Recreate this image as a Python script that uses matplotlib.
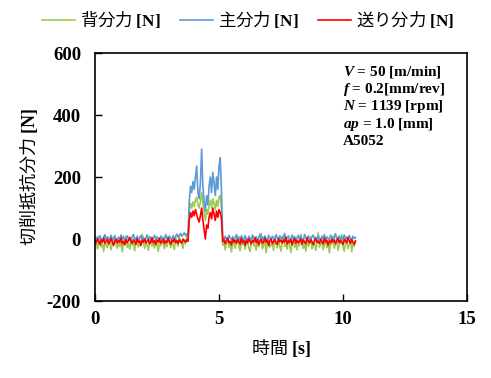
import numpy as np
import matplotlib
matplotlib.use("Agg")
import matplotlib.pyplot as plt

plt.rcParams['mathtext.fontset'] = 'custom'
plt.rcParams['mathtext.rm'] = 'Liberation Serif:bold'
plt.rcParams['mathtext.bf'] = 'Liberation Serif:bold'
plt.rcParams['mathtext.it'] = 'Liberation Serif:italic:bold'
plt.rcParams['axes.unicode_minus'] = False

JP = ['Noto Sans CJK JP', 'DejaVu Sans']
SERIF = 'Liberation Serif'

# sample spacing [s]
dt = 0.05

# 主分力 [N]  (0 - 3.75 s, 3.80 - 5.10 s cutting, 5.15 - 10.5 s)
main_pre = [3, -6, 8, -2, 11, 0, -9, 5, 14, -3,
            7, -8, 2, 12, -5, 4, 9, -11, 1, 6,
            -4, 13, -1, 8, -7, 3, 10, -2, 5, -9,
            7, 15, -3, 0, 9, -6, 4, 11, -1, 6,
            -8, 2, 13, -4, 8, 1, -10, 5, 12, -2,
            7, 3, -5, 10, 0, 6, -7, 14, 2, -3,
            9, 4, -6, 11, 1, 8, 16, 5, 12, 18,
            9, 14, 20, 11, 17, 13]
main_cut = [120, 170, 150, 185, 160, 200, 235, 150, 130, 180,
            290, 170, 120, 90, 140, 110, 170, 200, 150, 215,
            180, 140, 200, 160, 235, 262, 150]
main_post = [6, -4, 9, 1, -7, 12, 3, -2, 8, -9,
             5, 14, -1, 7, -5, 10, 2, -8, 11, 0,
             -3, 9, 4, -10, 13, 6, -2, 8, -6, 3,
             16, -1, 7, -4, 10, 2, -7, 12, 5, -3,
             9, 0, -8, 14, 4, -2, 11, -5, 7, 1,
             18, -4, 6, 10, -9, 3, 13, -1, 8, -6,
             5, 12, -3, 9, 0, -7, 15, 4, -2, 10,
             2, -5, 8, 13, -1, 6, -8, 11, 3, -4,
             9, 0, 14, -6, 7, 2, -3, 12, 5, -9,
             8, 17, -2, 4, 10, -5, 6, 1, 13, -3,
             7, -1, 11, 3, -6, 9, 2, 5]

# 背分力 [N]
back_pre = [-18, -5, -32, -12, 8, -25, -15, -40, -8, -20,
            -28, 5, -14, -35, -10, -22, 12, -18, -30, -6,
            -24, -12, -42, -9, -16, 10, -27, -14, -33, -4,
            -20, -11, -38, 3, -17, -26, -8, -21, 15, -13,
            -30, -7, -19, -36, -10, 6, -23, -15, -29, -3,
            -17, -40, -12, -22, 2, -16, -31, -9, -25, 9,
            -14, -28, -6, -19, -34, 4, -12, -24, 12, -10,
            -18, -30, -2, -15, 10, -8]
back_cut = [90, 115, 100, 120, 105, 125, 135, 110, 100, 120,
            150, 115, 85, 60, 95, 80, 110, 125, 100, 130,
            115, 95, 125, 105, 135, 140, 100]
back_post = [-20, -8, -35, -14, 4, -27, -11, -42, -17, -5,
             -30, -13, 10, -24, -38, -9, -19, 2, -33, -15,
             -6, -28, -41, -12, 7, -22, -16, -36, -3, -25,
             -10, 18, -31, -18, -7, -44, -14, 0, -26, -20,
             -9, -37, 8, -16, -29, -4, -21, -39, -11, 12,
             -24, -15, -33, -2, -19, -43, -8, 5, -27, -13,
             -35, -6, -22, 15, -17, -30, -10, -40, -1, -23,
             -14, 6, -32, -19, -8, -37, -12, 20, -26, -16,
             -4, -34, -21, 3, -28, -11, -45, -7, -18, 9,
             -30, -15, -2, -36, -20, -9, 14, -25, -39, -12,
             -6, -31, -17, 2, -41, -13, -24, -10]

# 送り分力 [N]
feed_pre = [-5, -12, 0, -8, -18, -3, -10, 4, -14, -7,
            -2, -16, -9, 2, -11, -20, -6, -1, -13, -4,
            -10, 3, -15, -7, -19, -2, -12, -5, 5, -9,
            -14, -3, -8, -17, 1, -11, -6, -21, -4, -10,
            0, -13, -7, -2, -16, -9, 4, -12, -5, -18,
            -3, -10, 2, -14, -8, -1, -15, -6, -11, 3,
            -7, -17, -4, -9, 1, -12, -5, -14, -2, -8,
            -13, 0, -6, -10, -3, -7]
feed_cut = [60, 85, 70, 90, 75, 95, 80, 65, 55, 75,
            100, 60, 30, 0, 45, 35, 70, 85, 65, 100,
            80, 60, 90, 70, 95, 85, 65]
feed_post = [-8, -2, -15, -5, 3, -12, -7, -19, 0, -10,
             -4, -14, -1, -9, -17, 2, -11, -6, -20, -3,
             -13, 1, -8, -16, -5, -10, 4, -12, -2, -18,
             -7, -1, -14, -9, 3, -11, -4, -21, -6, 0,
             -15, -8, -2, -12, -17, 1, -9, -5, -13, -3,
             -10, 5, -16, -6, -11, -1, -19, -7, 2, -14,
             -4, -12, -8, 0, -17, -3, -10, -15, 4, -6,
             -13, -2, -9, -18, -5, 1, -11, -7, -14, -1,
             -8, -16, 3, -10, -4, -20, -6, -12, 0, -9,
             -3, -15, -7, 2, -13, -5, -11, -18, -1, -8,
             -12, 4, -6, -14, -2, -10, -17, -5]

labels = ['背分力', '主分力', '送り分力']
colors = ['#9BCB50', '#5B9BD5', '#FF0000']
conditions = [r'$V$ = 50 [m/min]', r'$f$ = 0.2[mm/rev]', r'$N$ = 1139 [rpm]',
              r'$ap$ = 1.0 [mm]', 'A5052']

back = np.array(back_pre + back_cut + back_post)
main = np.array(main_pre + main_cut + main_post)
feed = np.array(feed_pre + feed_cut + feed_post)
t = np.arange(len(main)) * dt

fig = plt.figure(figsize=(4.91, 3.78), dpi=100)
ax = fig.add_axes([95 / 491, 1 - 301 / 378, 372 / 491, 248 / 378])

for y, lab, c in zip([back, main, feed], labels, colors):
    ax.plot(t, y, color=c, lw=1.2, label=lab + r' $\mathrm{[N]}$')

ax.set_xlim(0, 15)
ax.set_ylim(-200, 600)
ax.set_xticks([0, 5, 10, 15])
ax.set_yticks([-200, 0, 200, 400, 600])
ax.tick_params(direction='in', length=5, width=1)
ax.tick_params(axis='x', pad=7)
ax.tick_params(axis='y', pad=10)
for lbl in ax.get_xticklabels() + ax.get_yticklabels():
    lbl.set_fontfamily(SERIF)
    lbl.set_fontweight('bold')
    lbl.set_fontsize(13.5)
for sp in ax.spines.values():
    sp.set_linewidth(1.2)

ax.set_xlabel(r'時間 $\mathrm{[s]}$', family=JP, fontsize=13, labelpad=7)
ax.set_ylabel(r'切削抵抗分力 $\mathrm{[N]}$', family=JP, fontsize=13, labelpad=5)

fig.legend(loc='center', bbox_to_anchor=(0.505, 1 - 20 / 378), ncol=3,
           frameon=False, prop={'family': JP, 'size': 12.5},
           handlelength=1.9, handletextpad=0.3, columnspacing=1.1)

for i, s in enumerate(conditions):
    fig.text(343 / 491, 1 - (72 + 17.4 * i) / 378, s, family=SERIF,
             weight='bold', fontsize=11, va='center', ha='left')

fig.savefig('out.png', dpi=100)
